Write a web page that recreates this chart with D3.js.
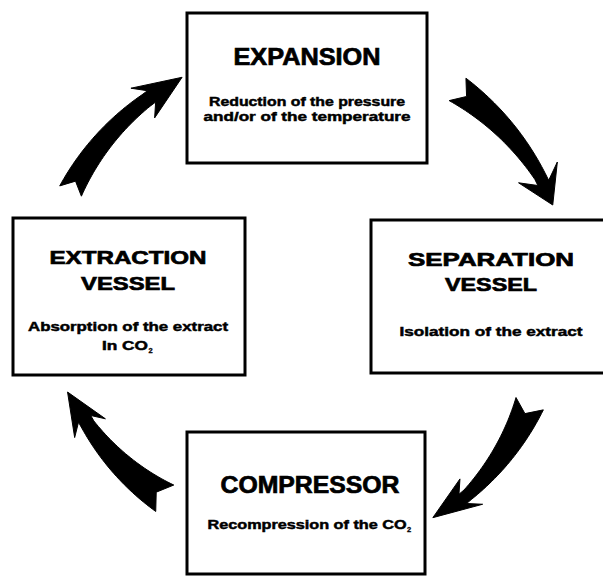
<!DOCTYPE html>
<html>
<head>
<meta charset="utf-8">
<script src="https://cdn.jsdelivr.net/npm/d3@7"></script>
<style>
  body { margin: 0; background: #fff; }
  svg { display: block; }
  text { font-family: "Liberation Sans", Arial, sans-serif; font-weight: bold; fill: #000; stroke: #000; }
</style>
</head>
<body>
<svg width="603" height="580"></svg>
<script>
// the four steps of the cycle, clockwise from the top
var stepTitles = [["EXPANSION"], ["SEPARATION", "VESSEL"], ["COMPRESSOR"], ["EXTRACTION", "VESSEL"]];
var stepNotes = [
  ["Reduction of the pressure", "and/or of the temperature"],
  ["Isolation of the extract"],
  ["Recompression of the CO2"],
  ["Absorption of the extract", "In CO2"]
];

// layout (boxes, baselines, measured text widths)
var k_boxes = [
  {x:187, y:13,  w:240, h:150, cx:307, ts:23, ty:[65],       tw:[147],     ny:[106,121], nw:[196,207]},
  {x:371, y:220, w:260, h:153, cx:491, ts:19, ty:[266,291],  tw:[166,92],  ny:[336],     nw:[183]},
  {x:187, y:432, w:238, h:142, cx:310, ts:23, ty:[493],      tw:[179],     ny:[529],     nw:[205]},
  {x:13,  y:218, w:232, h:157, cx:128, ts:19, ty:[264,290],  tw:[157,94],  ny:[331,350], nw:[200,52]}
];

// curved arrows round the centre, angles in degrees (svg, clockwise)
var k_centre = {x:300, y:300};
var k_arrows = [
  {t0:205.4, r0:254, w0:24, t1:232.4, r1:252, w1:14, hw:19, t2:242.1, r2:252},
  {t0:-53.2, r0:263, w0:28, t1:-27.2, r1:270, w1:12, hw:22, t2:-20.6, r2:270},
  {t0:24.3,  r0:252, w0:30, t1:49.2,  r1:257, w1:12, hw:17, t2:58.6,  r2:255},
  {t0:124.3, r0:240, w0:32, t1:149.6, r1:246, w1:14, hw:18, t2:158.4, r2:250}
];

var svg = d3.select('svg');

function polar(deg, r) {
  var a = deg * Math.PI / 180;
  return [k_centre.x + r * Math.cos(a), k_centre.y + r * Math.sin(a)];
}

function arrowPath(a) {
  var n = 30;
  var t = d3.scaleLinear().domain([0, n]).range([a.t0, a.t1]);
  var r = d3.scaleLinear().domain([0, n]).range([a.r0, a.r1]);
  var w = d3.scaleLinear().domain([0, n]).range([a.w0, a.w1]);
  var outer = [], inner = [];
  for (var i = 0; i <= n; i++) {
    outer.push(polar(t(i), r(i) + w(i) / 2));
    inner.push(polar(t(i), r(i) - w(i) / 2));
  }
  var neck = a.t1 + 1.5;
  var pts = outer.slice();
  pts.push(polar(neck, a.r1 + a.w1 / 2));
  pts.push(polar(a.t1 - 1, a.r1 + a.hw));
  pts.push(polar(a.t2, a.r2));
  pts.push(polar(a.t1 - 1, a.r1 - a.hw));
  pts.push(polar(neck, a.r1 - a.w1 / 2));
  pts = pts.concat(inner.reverse());
  pts.push(polar(a.t0 + 2.5, a.r0)); // notch in the tail
  return d3.line()(pts) + 'Z';
}

svg.selectAll('path.arrow')
  .data(k_arrows)
  .enter()
  .append('path')
  .attr('class', 'arrow')
  .attr('d', arrowPath)
  .attr('fill', '#000')
  .attr('stroke', '#000')
  .attr('stroke-width', 1)
  .attr('stroke-linejoin', 'round');

var g = svg.selectAll('g.step')
  .data(k_boxes)
  .enter()
  .append('g')
  .attr('class', 'step');

g.append('rect')
  .attr('x', function(d) {return d.x;})
  .attr('y', function(d) {return d.y;})
  .attr('width', function(d) {return d.w;})
  .attr('height', function(d) {return d.h;})
  .attr('fill', '#fff')
  .attr('stroke', '#000')
  .attr('stroke-width', 3);

g.each(function(d, i) {
  var el = d3.select(this);
  stepTitles[i].forEach(function(s, j) {
    el.append('text')
      .attr('x', d.cx - d.tw[j] / 2)
      .attr('y', d.ty[j])
      .attr('font-size', d.ts)
      .attr('stroke-width', 0.7)
      .attr('textLength', d.tw[j])
      .attr('lengthAdjust', 'spacingAndGlyphs')
      .text(s);
  });
  stepNotes[i].forEach(function(s, j) {
    var sub = /CO2$/.test(s);
    var main = sub ? s.slice(0, -1) : s;
    var len = sub ? d.nw[j] - 6 : d.nw[j];
    var x0 = d.cx - d.nw[j] / 2;
    el.append('text')
      .attr('x', x0)
      .attr('y', d.ny[j])
      .attr('font-size', 12)
      .attr('stroke-width', 0.45)
      .attr('textLength', len)
      .attr('lengthAdjust', 'spacingAndGlyphs')
      .text(main);
    if (sub) {
      el.append('text')
        .attr('x', x0 + len + 0.5)
        .attr('y', d.ny[j] + 3)
        .attr('font-size', 7.5)
        .attr('stroke-width', 0.3)
        .text('2');
    }
  });
});
</script>
</body>
</html>
